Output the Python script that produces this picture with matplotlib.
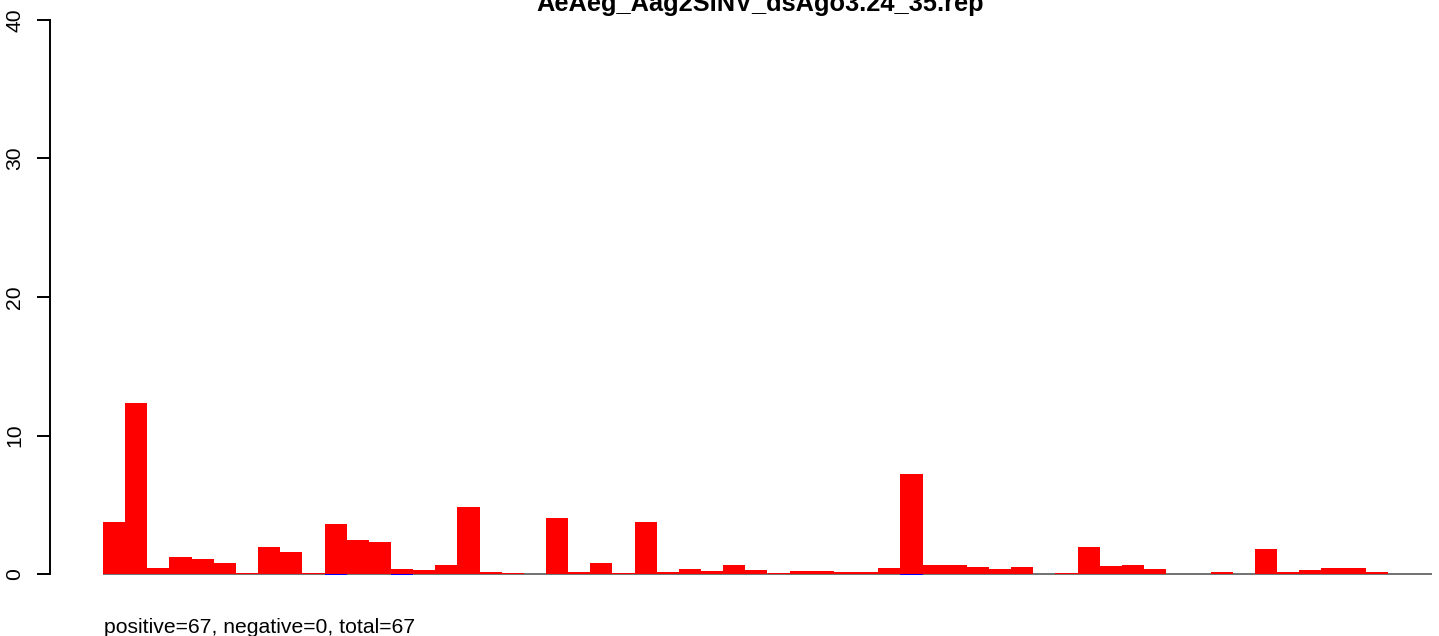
import matplotlib
matplotlib.use("Agg")
import matplotlib.pyplot as plt
import numpy as np

title = "AeAeg_Aag2SINV_dsAgo3.24_35.rep"
footer = "positive=67, negative=0, total=67"

positive = [3.78, 12.37, 0.46, 1.25, 1.11, 0.82, 0.10, 1.97, 1.61, 0.05,
            3.63, 2.48, 2.33, 0.39, 0.31, 0.67, 4.86, 0.17, 0.05, 0.00,
            4.07, 0.17, 0.82, 0.10, 3.78, 0.17, 0.39, 0.24, 0.67, 0.31,
            0.05, 0.24, 0.24, 0.17, 0.17, 0.46, 7.24, 0.67, 0.67, 0.53,
            0.39, 0.53, 0.00, 0.10, 1.97, 0.60, 0.67, 0.39, 0.00, 0.00,
            0.17, 0.00, 1.83, 0.17, 0.31, 0.46, 0.46, 0.17, 0.00, 0.00]
negative = [0.00] * 60
negative[10] = -0.10
negative[13] = -0.04
negative[36] = -0.04

yticks = [0, 10, 20, 30, 40]

plt.rcParams['font.family'] = ['Liberation Sans', 'DejaVu Sans']

fig = plt.figure(figsize=(14.39, 6.36), dpi=100)
W, H = 1439, 636
ax = fig.add_axes([50 / W, (H - 574) / H, (W - 50) / W, 554 / H])

n = len(positive)
x = np.arange(n)
bw = 1.0
ax.bar(x, positive, width=bw, align='edge', color='#ff0000', lw=0, zorder=2, clip_on=False)
ax.hlines(0, 0, n, colors='#666666', lw=1.3, zorder=1.5, clip_on=False)
ax.bar(x, negative, width=bw, align='edge', color='#0000ff', lw=0, zorder=3, clip_on=False)

ax.set_xlim(-53 / 22.15, (W - 103) / 22.15)
ax.set_ylim(0, 40)
for s in ['top', 'right', 'bottom']:
    ax.spines[s].set_visible(False)
ax.spines['left'].set_linewidth(1.4)
ax.spines['left'].set_bounds(0, 40)
ax.set_xticks([])
ax.set_yticks(yticks)
ax.set_yticklabels([str(t) for t in yticks], rotation=90, va='center')
ax.tick_params(axis='y', length=9.4, width=1.4, pad=9, labelsize=15.2)

fig.text(760 / W, 1 - 11 / H, title, ha='center', va='baseline',
         fontsize=18.3, fontweight='bold')
fig.text(104 / W, 3 / H, footer, ha='left', va='baseline', fontsize=15.2)

fig.savefig("out.png", dpi=100)
